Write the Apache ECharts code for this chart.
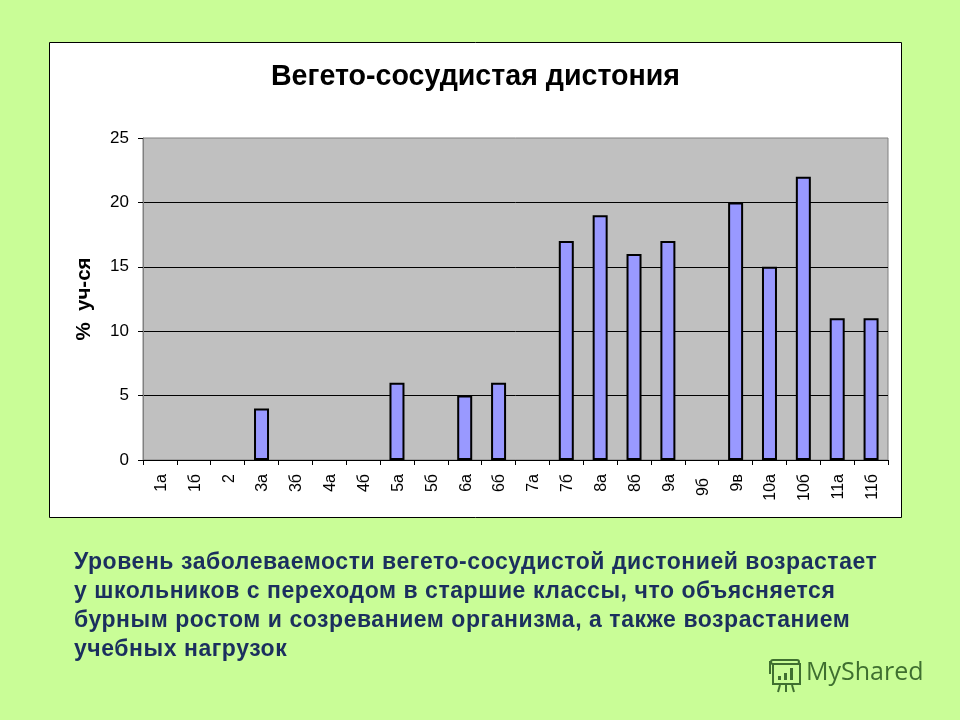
<!DOCTYPE html>
<html>
<head>
<meta charset="utf-8">
<style>
  html, body { margin: 0; padding: 0; background: #c9fd97; }
  #chart { width: 960px; height: 720px; }
  #caption {
    position: absolute;
    left: 74px;
    top: 547px;
    font: bold 23px/29px "Liberation Sans", Arial, sans-serif;
    letter-spacing: 0.55px;
    color: #1b2f5e;
    white-space: nowrap;
  }
</style>
<script src="https://cdn.jsdelivr.net/npm/echarts@6/dist/echarts.min.js"></script>
</head>
<body>
<div id="chart"></div>
<div id="caption"></div>
<script>
const classes = ['1а', '1б', '2', '3а', '3б', '4а', '4б', '5а', '5б', '6а', '6б', '7а', '7б', '8а', '8б', '9а', '9б', '9в', '10а', '10б', '11а', '11б']
// null = nothing drawn for that class
const percents = [null, null, null, 4, null, null, null, 6, null, 5, 6, null, 17, 19, 16, 17, null, 20, 15, 22, 11, 11]
const caption = [
  'Уровень заболеваемости вегето-сосудистой дистонией возрастает',
  'у школьников с переходом в старшие классы, что объясняется',
  'бурным ростом и созреванием организма, а также возрастанием',
  'учебных нагрузок',
]

const font = '"Liberation Sans", Arial, sans-serif'
const logoColor = '#3f6f30'

document.getElementById('caption').innerHTML = caption.join('<br>')

const chart = echarts.init(document.getElementById('chart'))

chart.setOption({
  animation: false,
  backgroundColor: '#c9fd97',
  textStyle: { fontFamily: font },
  title: {
    text: 'Вегето-сосудистая дистония',
    left: 470.5,
    top: 58,
    textAlign: 'center',
    textStyle: { fontFamily: font, fontSize: 28.6, fontWeight: 'bold', color: '#000' },
  },
  grid: {
    left: 143,
    top: 138,
    width: 745,
    height: 322,
    show: true,
    backgroundColor: '#c0c0c0',
    borderColor: '#808080',
    borderWidth: 1,
  },
  xAxis: {
    type: 'category',
    data: classes,
    axisLine: { lineStyle: { color: '#000', width: 1 } },
    axisTick: { show: true, length: 5, lineStyle: { color: '#000' } },
    axisLabel: {
      rotate: 90,
      interval: 0,
      margin: 14,
      padding: [3, 0, 0, 0],
      color: '#000',
      fontSize: 16,
      fontFamily: font,
      formatter: (v) => (v === '9б' ? '{low|' + v + '}' : v),
      rich: { low: { fontSize: 16, fontFamily: font, color: '#000', padding: [0, 4, 0, 0] } },
    },
  },
  yAxis: {
    type: 'value',
    min: 0,
    max: 25,
    interval: 5,
    name: '%  уч-ся',
    nameLocation: 'middle',
    nameGap: 48,
    nameRotate: 90,
    nameTextStyle: { fontFamily: font, fontSize: 20.5, fontWeight: 'bold', color: '#000' },
    axisLine: { show: true, lineStyle: { color: '#808080', width: 1 } },
    axisTick: { show: true, length: 5, lineStyle: { color: '#000' } },
    axisLabel: { margin: 14, color: '#000', fontSize: 17, fontFamily: font },
    splitLine: { show: true, showMinLine: false, showMaxLine: false, lineStyle: { color: '#000', width: 1 } },
  },
  series: [
    {
      type: 'bar',
      data: percents,
      barWidth: 15,
      itemStyle: { color: '#9999ff', borderColor: '#000', borderWidth: 2 },
    },
  ],
  graphic: [
    // white panel behind the chart
    {
      type: 'rect',
      z: -1,
      shape: { x: 49.5, y: 42.5, width: 852, height: 475 },
      style: { fill: '#fff', stroke: '#000', lineWidth: 1 },
    },
    // watermark
    {
      type: 'text',
      x: 806,
      y: 660,
      style: { text: 'MyShared', fill: logoColor, font: '25px "Open Sans", sans-serif' },
    },
    {
      type: 'group',
      x: 767,
      y: 656,
      children: [
        { type: 'rect', shape: { x: 4, y: 4, width: 28, height: 4, r: 2 }, style: { fill: 'none', stroke: logoColor, lineWidth: 2 } },
        { type: 'rect', shape: { x: 6, y: 8, width: 27, height: 20 }, style: { fill: 'none', stroke: logoColor, lineWidth: 2 } },
        { type: 'line', shape: { x1: 3, y1: 5, x2: 3, y2: 18 }, style: { stroke: logoColor, lineWidth: 2 } },
        { type: 'rect', shape: { x: 11, y: 20, width: 3, height: 4 }, style: { fill: logoColor } },
        { type: 'rect', shape: { x: 17, y: 17, width: 3, height: 7 }, style: { fill: logoColor } },
        { type: 'rect', shape: { x: 23, y: 12, width: 3, height: 12 }, style: { fill: logoColor } },
        { type: 'line', shape: { x1: 13, y1: 29, x2: 11, y2: 36 }, style: { stroke: logoColor, lineWidth: 2 } },
        { type: 'line', shape: { x1: 19, y1: 29, x2: 19, y2: 36 }, style: { stroke: logoColor, lineWidth: 2 } },
        { type: 'line', shape: { x1: 25, y1: 29, x2: 27, y2: 36 }, style: { stroke: logoColor, lineWidth: 2 } },
      ],
    },
  ],
})
</script>
</body>
</html>
